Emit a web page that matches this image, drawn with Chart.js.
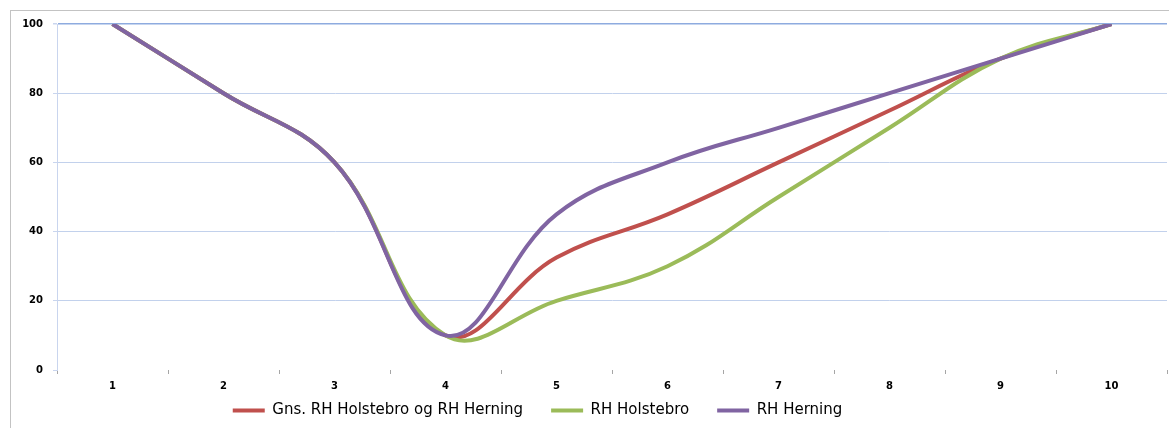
<!DOCTYPE html>
<html>
<head>
<meta charset="utf-8">
<script src="https://cdn.jsdelivr.net/npm/chart.js@4/dist/chart.umd.min.js"></script>
<style>
  html, body { margin: 0; padding: 0; background: #fff; }
  #wrap { position: relative; width: 1169px; height: 428px; }
  #frame { position: absolute; left: 10px; top: 10px; right: -5px; bottom: -5px; border: 1px solid #c3c3c3; }
</style>
</head>
<body>
<div id="wrap">
  <div id="frame"></div>
  <canvas id="myChart"></canvas>
</div>
<script>
// categories on the x axis
const categories = ["1", "2", "3", "4", "5", "6", "7", "8", "9", "10"]
// series values
const gnsValues = [100, 80, 60, 10, 32.5, 45, 60, 75, 90, 100]
const holstebroValues = [100, 80, 60, 10, 20, 30, 50, 70, 90, 100]
const herningValues = [100, 80, 60, 10, 45, 60, 70, 80, 90, 100]
const seriesNames = ["Gns. RH Holstebro og RH Herning", "RH Holstebro", "RH Herning"]
const yTicks = [0, 20, 40, 60, 80, 100]

const ctx = document.getElementById("myChart")

// legend padding is big (for the gaps between items), so pull the box back up and left
const legendShift = {
  id: "legendShift",
  afterLayout(chart) {
    const lg = chart.legend
    lg.left -= 51
    lg.right -= 51
    lg.top -= 21
    lg.bottom -= 21
  }
}

// order: last series is drawn on top (like excel)
const makeSet = (label, data, color, order) => ({
  label: label,
  data: data,
  borderColor: color,
  backgroundColor: color,
  borderWidth: 4,
  pointRadius: 0,
  tension: 0.4,
  fill: false,
  order: order
})

const myChart = new Chart(ctx, {
  type: "line",
  data: {
    labels: categories,
    datasets: [
      makeSet(seriesNames[0], gnsValues, "#c0504d", 3),
      makeSet(seriesNames[1], holstebroValues, "#9bbb59", 2),
      makeSet(seriesNames[2], herningValues, "#8064a2", 1)
    ]
  },
  options: {
    responsive: true,
    maintainAspectRatio: false,
    animation: false,
    layout: { padding: { left: 10, right: 2, top: 24, bottom: -21 } },
    plugins: {
      tooltip: { enabled: false },
      legend: {
        position: "bottom",
        labels: {
          usePointStyle: true,
          pointStyle: "line",
          pointStyleWidth: 32,
          padding: 28,
          color: "#000",
          font: { family: "DejaVu Sans", size: 15 },
          sort: (a, b) => a.datasetIndex - b.datasetIndex
        }
      }
    },
    scales: {
      x: {
        offset: true,
        afterFit(scale) { scale.height = 26 },
        border: { display: false },
        grid: {
          offset: true,
          drawOnChartArea: false,
          drawTicks: true,
          tickLength: 4,
          color: "#a6a6a6"
        },
        ticks: {
          padding: 6,
          maxRotation: 0,
          color: "#000",
          font: { family: "DejaVu Sans", size: 10, weight: "bold" }
        }
      },
      y: {
        min: 0,
        max: 100,
        afterFit(scale) { scale.width = 47 },
        afterBuildTicks(scale) { scale.ticks = yTicks.map(v => ({ value: v })) },
        border: { display: true, color: "#c9d5ee", width: 1 },
        grid: {
          color: (c) => c.tick.value === 0 ? "rgba(0,0,0,0)" : (c.tick.value === 100 ? "#8eabdf" : "#c2d1ec"),
          lineWidth: (c) => c.tick.value === 100 ? 1.5 : 1,
          drawTicks: true,
          tickLength: 4,
          tickColor: "#c9d5ee"
        },
        ticks: {
          padding: 10,
          color: "#000",
          font: { family: "DejaVu Sans", size: 10, weight: "bold" }
        }
      }
    }
  },
  plugins: [legendShift]
})
</script>
</body>
</html>
